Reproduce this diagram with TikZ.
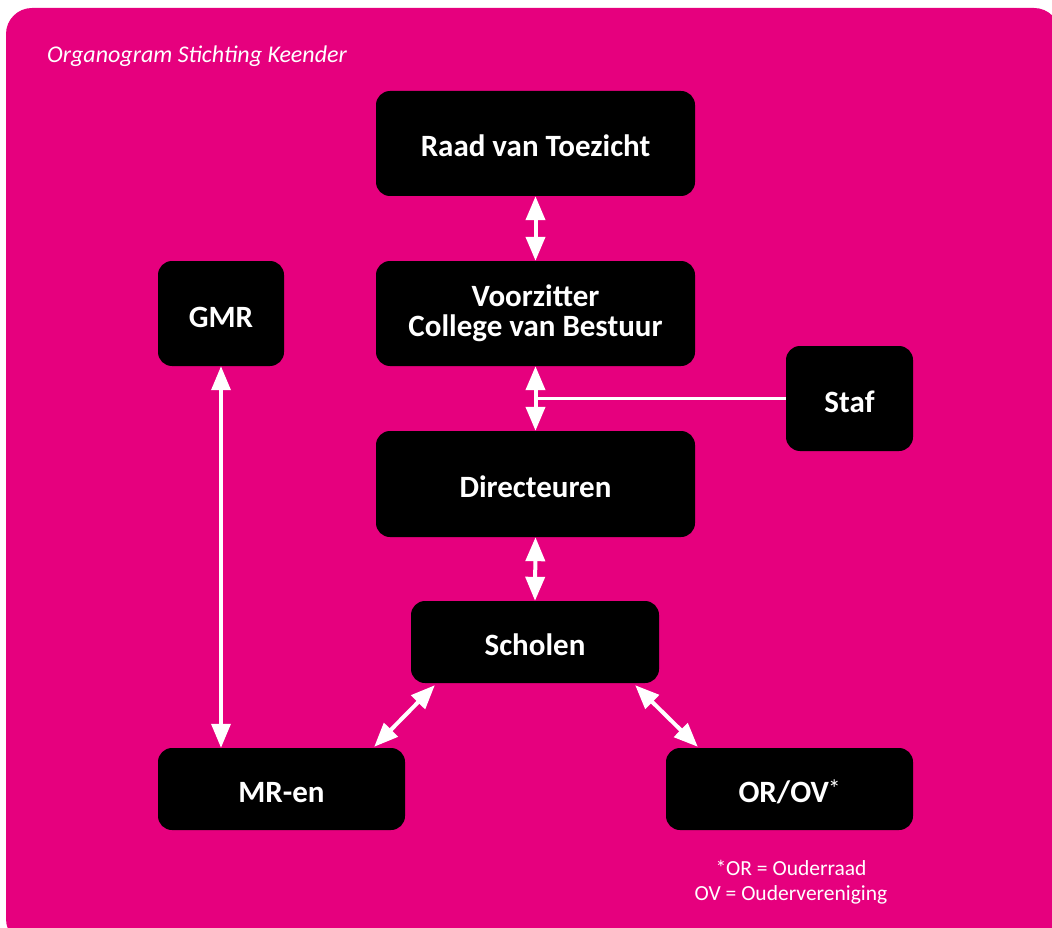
\documentclass[tikz,border=0pt]{standalone}
\usepackage{fontspec}
\setmainfont{Carlito}
\usetikzlibrary{arrows.meta,calc}
\definecolor{mag}{HTML}{E6007E}
\begin{document}
\begin{tikzpicture}[x=1pt,y=-1pt,
  box/.style={fill=black, rounded corners=14pt, text=white, font=\fontsize{31}{30}\selectfont\bfseries, align=center, inner sep=0pt},
  one/.style={text height=27pt, text depth=0pt},
  dbl/.style={white, line width=4pt, {Triangle[width=19pt,length=24pt]}-{Triangle[width=19pt,length=24pt]}},
  link/.style={white, line width=3.5pt}]
\useasboundingbox (0,0) rectangle (1052,928);
\clip (0,0) rectangle (1052,928);
\fill[mag, rounded corners=26pt] (6,8) rectangle (1060,945);
\node[anchor=base west, font=\fontsize{24}{28}\selectfont\itshape, text=white, inner sep=0pt] (title) at (47,63) {Organogram Stichting Keender};
\node[box, one, minimum width=319pt, minimum height=105pt] (rvt) at (535.5,143.5) {Raad van Toezicht};
\node[box, minimum width=319pt, minimum height=105pt] (voor) at (535.5,313.5) {Voorzitter\\College van Bestuur};
\node[box, one, minimum width=127pt, minimum height=105pt] (staf) at (849.5,398.5) {Staf};
\node[box, one, minimum width=126pt, minimum height=105pt] (gmr) at (221,313.5) {GMR};
\node[box, one, minimum width=319pt, minimum height=106pt] (dir) at (535.5,484) {Directeuren};
\node[box, one, minimum width=248pt, minimum height=82pt] (sch) at (535,642) {Scholen};
\node[box, one, minimum width=247pt, minimum height=82pt] (mr) at (281.5,789) {MR-en};
\node[box, one, minimum width=247pt, minimum height=82pt] (orov) at (789.5,789) {OR/OV\kern-1pt\raisebox{5pt}{\mdseries\fontsize{25}{25}\selectfont*}};
\node[font=\fontsize{21.5}{25}\selectfont, text=white, align=center] (note) at (791,882) {*OR = Ouderraad\\OV = Oudervereniging};
\draw[dbl] (rvt.south) -- (voor.north);
\draw[link] (staf.west) -- (staf.west -| voor.south);
\draw[dbl] (voor.south) -- (dir.north);
\draw[dbl] (dir.south) -- (sch.north);
\draw[dbl, line width=3.5pt] (gmr.south) -- (gmr.south |- mr.north);
\draw[dbl] ($(sch.south west)+(24,2)$) -- ($(mr.north east)+(-31,-1)$);
\draw[dbl] ($(sch.south east)+(-24,2)$) -- ($(orov.north west)+(32,-1)$);
\end{tikzpicture}
\end{document}
